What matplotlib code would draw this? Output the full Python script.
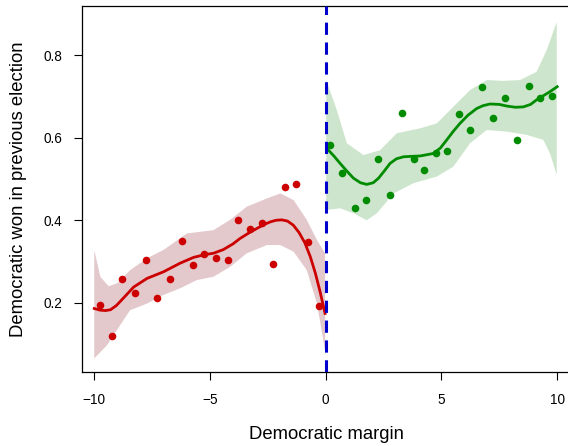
import numpy as np
import matplotlib.pyplot as plt

plt.rcParams['font.family'] = ['Liberation Sans', 'DejaVu Sans']

# Punkty - strona republikańska (margin < 0)
x_left = [-9.77, -9.25, -8.79, -8.26, -7.77, -7.27, -6.75, -6.23, -5.75, -5.26,
          -4.72, -4.23, -3.80, -3.28, -2.76, -2.26, -1.77, -1.29, -0.76, -0.28]
y_left = [0.194, 0.119, 0.257, 0.223, 0.303, 0.211, 0.257, 0.349, 0.292, 0.317,
          0.308, 0.303, 0.400, 0.378, 0.394, 0.295, 0.480, 0.487, 0.348, 0.191]

# Punkty - strona demokratyczna (margin > 0)
x_right = [0.20, 0.72, 1.28, 1.76, 2.26, 2.79, 3.29, 3.80, 4.25, 4.77,
           5.26, 5.75, 6.24, 6.77, 7.21, 7.73, 8.25, 8.78, 9.26, 9.76]
y_right = [0.582, 0.514, 0.429, 0.448, 0.548, 0.461, 0.659, 0.549, 0.521, 0.564,
           0.567, 0.657, 0.618, 0.724, 0.649, 0.696, 0.594, 0.725, 0.696, 0.702]

# Wygładzona linia (lewa)
fit_lx = [-10.0, -9.75, -9.52, -9.30, -9.05, -8.73, -8.30, -7.72, -7.01, -6.29,
          -5.71, -5.20, -4.85, -4.42, -4.00, -3.70, -3.30, -2.98, -2.65, -2.40,
          -2.15, -1.90, -1.65, -1.40, -1.15, -0.90, -0.67, -0.45, -0.25, -0.03]
fit_ly = [0.186, 0.182, 0.181, 0.183, 0.193, 0.212, 0.238, 0.259, 0.275, 0.296,
          0.310, 0.317, 0.320, 0.329, 0.343, 0.356, 0.370, 0.380, 0.390, 0.396,
          0.400, 0.401, 0.398, 0.388, 0.370, 0.345, 0.312, 0.272, 0.228, 0.174]

# Przedział ufności (lewa)
up_lx = [-10.0, -9.74, -9.38, -9.02, -8.45, -7.72, -7.01, -6.00, -4.85, -4.13,
         -3.41, -2.54, -1.96, -1.39, -0.82, -0.38, -0.03]
up_ly = [0.328, 0.263, 0.240, 0.247, 0.279, 0.308, 0.328, 0.368, 0.376, 0.401,
         0.433, 0.453, 0.465, 0.449, 0.401, 0.352, 0.320]
lo_lx = [-10.0, -9.45, -9.02, -8.45, -7.72, -7.01, -6.29, -5.57, -4.85, -4.13,
         -3.41, -2.54, -1.97, -1.39, -0.82, -0.38, -0.03]
lo_ly = [0.065, 0.097, 0.134, 0.182, 0.198, 0.219, 0.235, 0.255, 0.263, 0.287,
         0.320, 0.340, 0.340, 0.324, 0.279, 0.198, 0.085]

# Wygładzona linia (prawa)
fit_rx = [0.05, 0.35, 0.62, 0.90, 1.20, 1.50, 1.77, 2.05, 2.28, 2.55,
          2.78, 3.05, 3.36, 3.70, 4.08, 4.65, 4.95, 5.23, 5.50, 5.80,
          6.15, 6.52, 6.80, 7.10, 7.50, 7.82, 8.20, 8.54, 8.85, 9.11,
          9.40, 9.69, 10.0]
fit_ry = [0.574, 0.556, 0.538, 0.520, 0.502, 0.491, 0.487, 0.491, 0.502, 0.521,
          0.538, 0.549, 0.554, 0.555, 0.556, 0.562, 0.575, 0.595, 0.615, 0.635,
          0.655, 0.671, 0.678, 0.682, 0.681, 0.677, 0.674, 0.675, 0.681, 0.692,
          0.702, 0.712, 0.724]

# Przedział ufności (prawa)
up_rx = [0.02, 0.48, 0.91, 1.63, 2.35, 3.07, 4.08, 4.80, 5.51, 6.24,
         6.96, 7.67, 8.39, 9.11, 9.55, 9.98]
up_ry = [0.740, 0.667, 0.587, 0.558, 0.570, 0.611, 0.623, 0.635, 0.675, 0.716,
         0.740, 0.738, 0.740, 0.760, 0.813, 0.881]
lo_rx = [0.02, 0.62, 1.20, 1.77, 2.21, 2.93, 3.79, 4.80, 5.51, 6.24,
         6.96, 7.82, 8.69, 9.40, 9.69, 9.98]
lo_ry = [0.425, 0.429, 0.417, 0.400, 0.417, 0.465, 0.490, 0.506, 0.530, 0.587,
         0.619, 0.615, 0.607, 0.595, 0.562, 0.510]

red = '#CC0000'
green = '#008B00'

fig = plt.figure(figsize=(5.68, 4.46), dpi=100)
ax = fig.add_axes([0.1444, 0.1659, 0.859, 0.8206])

ax.fill(up_lx + lo_lx[::-1], up_ly + lo_ly[::-1], color='#E3C9CC', lw=0)
ax.fill(up_rx + lo_rx[::-1], up_ry + lo_ry[::-1], color='#CDE5CC', lw=0)

ax.plot(fit_lx, fit_ly, color=red, lw=2)
ax.plot(fit_rx, fit_ry, color=green, lw=2)

ax.scatter(x_left, y_left, s=30, color=red, zorder=3, linewidths=0)
ax.scatter(x_right, y_right, s=30, color=green, zorder=3, linewidths=0)

ax.axvline(0, color='#0000CC', lw=2.2, dashes=(4, 2.5), zorder=4)

ax.set_xlim(-10.53, 10.55)
ax.set_ylim(0.032, 0.9196)
ax.set_xticks([-10, -5, 0, 5, 10])
ax.set_xticklabels(['\u221210', '\u22125', '0', '5', '10'])
ax.set_yticks([0.2, 0.4, 0.6, 0.8])
ax.set_yticklabels(['0.2', '0.4', '0.6', '0.8'])
ax.tick_params(length=6, width=0.8, labelsize=9.8)
ax.tick_params(axis='x', pad=9)
ax.tick_params(axis='y', pad=8)

for s in ax.spines.values():
    s.set_linewidth(0.9)

ax.set_xlabel('Democratic margin', fontsize=13.3, labelpad=14)
ax.set_ylabel('Democratic won in previous election', fontsize=13.3, labelpad=12)

fig.savefig('out.png', dpi=100)
